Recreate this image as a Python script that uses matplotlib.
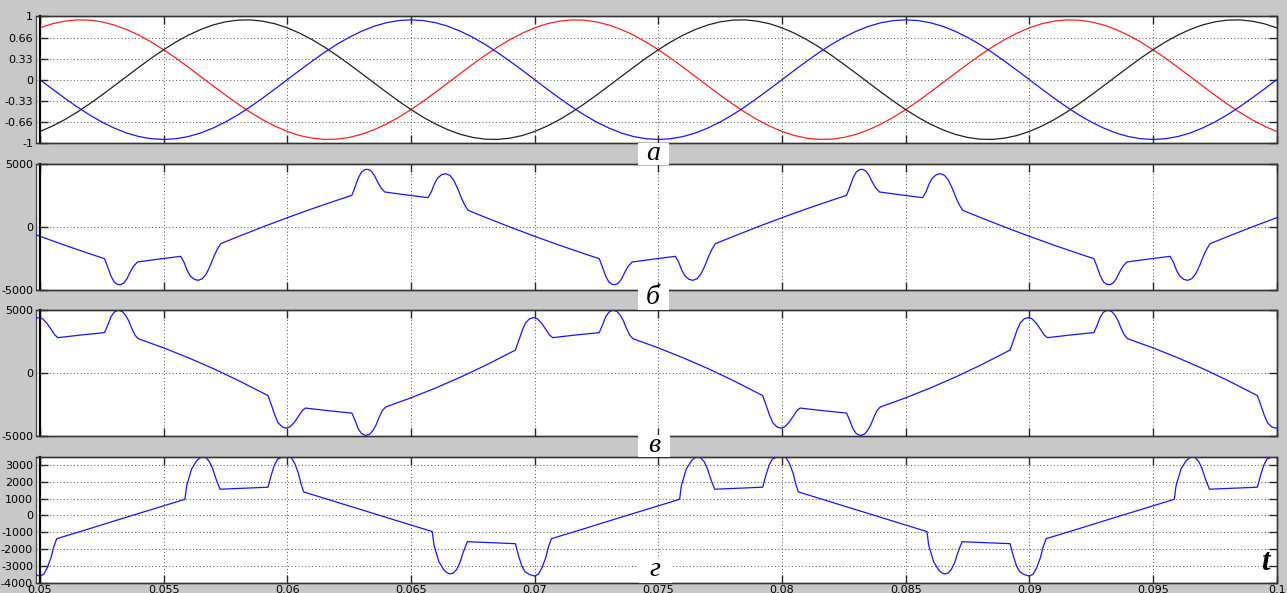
import numpy as np
import matplotlib.pyplot as plt
from matplotlib.patches import Rectangle

# ---- data -------------------------------------------------------------
period = 0.02

# a) three phase reference, one period sampled every 0.5 ms
t_a = [0.0500, 0.0505, 0.0510, 0.0515, 0.0520, 0.0525, 0.0530, 0.0535, 0.0540, 0.0545,
       0.0550, 0.0555, 0.0560, 0.0565, 0.0570, 0.0575, 0.0580, 0.0585, 0.0590, 0.0595,
       0.0600, 0.0605, 0.0610, 0.0615, 0.0620, 0.0625, 0.0630, 0.0635, 0.0640, 0.0645,
       0.0650, 0.0655, 0.0660, 0.0665, 0.0670, 0.0675, 0.0680, 0.0685, 0.0690, 0.0695]
ua_red = [0.814, 0.878, 0.919, 0.939, 0.935, 0.908, 0.859, 0.788, 0.699, 0.592,
          0.47, 0.337, 0.195, 0.049, -0.098, -0.243, -0.382, -0.512, -0.629, -0.73,
          -0.814, -0.878, -0.919, -0.939, -0.935, -0.908, -0.859, -0.788, -0.699, -0.592,
          -0.47, -0.337, -0.195, -0.049, 0.098, 0.243, 0.382, 0.512, 0.629, 0.73]
ua_black = [-0.814, -0.73, -0.629, -0.512, -0.382, -0.243, -0.098, 0.049, 0.195, 0.337,
            0.47, 0.592, 0.699, 0.788, 0.859, 0.908, 0.935, 0.939, 0.919, 0.878,
            0.814, 0.73, 0.629, 0.512, 0.382, 0.243, 0.098, -0.049, -0.195, -0.337,
            -0.47, -0.592, -0.699, -0.788, -0.859, -0.908, -0.935, -0.939, -0.919, -0.878]
ua_blue = [0.0, -0.147, -0.29, -0.427, -0.553, -0.665, -0.76, -0.838, -0.894, -0.928,
           -0.94, -0.928, -0.894, -0.838, -0.76, -0.665, -0.553, -0.427, -0.29, -0.147,
           0.0, 0.147, 0.29, 0.427, 0.553, 0.665, 0.76, 0.838, 0.894, 0.928,
           0.94, 0.928, 0.894, 0.838, 0.76, 0.665, 0.553, 0.427, 0.29, 0.147]

# b) one period
t_b = [0.050, 0.051, 0.052, 0.05261,
       0.05274, 0.05287, 0.05300, 0.05313, 0.05326, 0.05339, 0.05352, 0.05365, 0.05378, 0.05394,
       0.0548, 0.05569,
       0.05582, 0.05595, 0.05608, 0.05624, 0.05640, 0.05657, 0.05673, 0.05689, 0.05705, 0.05718, 0.05731,
       0.058, 0.059, 0.060, 0.061, 0.062, 0.06261,
       0.06274, 0.06287, 0.06300, 0.06313, 0.06326, 0.06339, 0.06352, 0.06365, 0.06378, 0.06394,
       0.0648, 0.06569,
       0.06582, 0.06595, 0.06608, 0.06624, 0.06640, 0.06657, 0.06673, 0.06689, 0.06705, 0.06718, 0.06731,
       0.068, 0.069]
v_b = [-738, -1445, -2117, -2513,
       -3175, -3889, -4365, -4550, -4577, -4444, -4100, -3571, -3122, -2778,
       -2550, -2328,
       -2778, -3439, -3889, -4153, -4233, -4100, -3704, -3042, -2249, -1720, -1323,
       -772, 0, 738, 1445, 2117, 2513,
       3175, 3889, 4365, 4550, 4577, 4444, 4100, 3571, 3122, 2778,
       2550, 2328,
       2778, 3439, 3889, 4153, 4233, 4100, 3704, 3042, 2249, 1720, 1323,
       772, 0]

# c) one period
t_c = [0.05073, 0.0517, 0.05261,
       0.05274, 0.05287, 0.05300, 0.05316, 0.05333, 0.05346, 0.05359, 0.05371, 0.05384, 0.05397,
       0.055, 0.056, 0.057, 0.058, 0.059,
       0.05922, 0.05937, 0.0595, 0.05963, 0.05979, 0.05995, 0.06011, 0.06027, 0.06044, 0.0606,
       0.06073, 0.0617, 0.06261,
       0.06274, 0.06287, 0.06300, 0.06316, 0.06333, 0.06346, 0.06359, 0.06371, 0.06384, 0.06397,
       0.065, 0.066, 0.067, 0.068, 0.069,
       0.06922, 0.06937, 0.0695, 0.06963, 0.06979, 0.06995, 0.07011, 0.07027, 0.07044, 0.0706]
v_c = [2800, 3020, 3200,
       3787, 4454, 4827, 4987, 4880, 4587, 4134, 3547, 3014, 2720,
       1986, 1201, 344, -584, -1583,
       -1810, -2640, -3387, -3974, -4294, -4400, -4294, -3974, -3494, -3014,
       -2800, -3020, -3200,
       -3787, -4454, -4827, -4987, -4880, -4587, -4134, -3547, -3014, -2720,
       -1986, -1201, -344, 584, 1583,
       1810, 2640, 3387, 3974, 4294, 4400, 4294, 3974, 3494, 3014]

# d) one period
t_d = [0.05068, 0.052, 0.053, 0.054, 0.055, 0.05586,
       0.05593, 0.05613, 0.05634, 0.05647, 0.05659, 0.05672, 0.05685, 0.05698, 0.05711, 0.05728,
       0.0583, 0.05922,
       0.05935, 0.05948, 0.05961, 0.0598, 0.05999, 0.06015, 0.0603, 0.06045, 0.06055, 0.06066,
       0.062, 0.063, 0.064, 0.065, 0.06586,
       0.06593, 0.06613, 0.06634, 0.06647, 0.06659, 0.06672, 0.06685, 0.06698, 0.06711, 0.06728,
       0.0683, 0.06922,
       0.06935, 0.06948, 0.06961, 0.0698, 0.06999, 0.07015, 0.0703, 0.07045, 0.07055]
v_d = [-1380, -790, -330, 120, 570, 960,
       1760, 2760, 3260, 3420, 3480, 3420, 3200, 2800, 2200, 1560,
       1620, 1680,
       2400, 3000, 3350, 3480, 3500, 3450, 3100, 2500, 1900, 1400,
       790, 330, -120, -570, -960,
       -1760, -2760, -3260, -3420, -3480, -3420, -3200, -2800, -2200, -1560,
       -1620, -1680,
       -2400, -3000, -3350, -3520, -3600, -3500, -3100, -2500, -1900]

xticks = [0.05, 0.055, 0.06, 0.065, 0.07, 0.075, 0.08, 0.085, 0.09, 0.095, 0.1]
xlabels = ['0.05', '0.055', '0.06', '0.065', '0.07', '0.075', '0.08', '0.085', '0.09', '0.095', '0.1']
yt_a = [-1, -0.66, -0.33, 0, 0.33, 0.66, 1]
yl_a = ['-1', '-0.66', '-0.33', '0', '0.33', '0.66', '1']
yt_bc = [-5000, 0, 5000]
yl_bc = ['-5000', '0', '5000']
yt_d = [-4000, -3000, -2000, -1000, 0, 1000, 2000, 3000]
yl_d = ['-4000', '-3000', '-2000', '-1000', '0', '1000', '2000', '3000']


def repeat(t, v, k0=-1, k1=3):
    # lay the recorded period side by side to fill the time window
    tt = np.concatenate([np.asarray(t) + k * period for k in range(k0, k1)])
    vv = np.tile(v, k1 - k0)
    return tt, vv


# ---- figure -----------------------------------------------------------
W, H = 1287, 593
fig = plt.figure(figsize=(W / 100, H / 100), dpi=100, facecolor='#c8c8c8')


def add_panel(top, bottom, yticks, ylabels, ylim, show_x=False):
    ax = fig.add_axes([35.5 / W, 1 - bottom / H, 1241.2 / W, (bottom - top) / H])
    ax.set_facecolor('white')
    ax.set_xlim(0.04982, 0.1)
    ax.set_ylim(*ylim)
    ax.set_xticks(xticks)
    ax.set_xticklabels(xlabels if show_x else [])
    ax.set_yticks(yticks)
    ax.set_yticklabels(ylabels)
    ax.grid(True, color='0.3', linestyle=(0, (1, 2.5)), linewidth=0.7)
    ax.tick_params(direction='in', length=6, width=1, colors='0.15',
                   top=True, right=True, labelsize=8, labelcolor='black')
    ax.tick_params(axis='y', pad=5)
    ax.tick_params(axis='x', pad=1.5)
    ax.spines['left'].set_position(('data', 0.05))
    ax.spines['left'].set_linewidth(1.6)
    ax.spines['left'].set_color('black')
    for s in ['top', 'right', 'bottom']:
        ax.spines[s].set_linewidth(1.0)
        ax.spines[s].set_color('0.2')
    ax.patch.set_edgecolor('0.3')
    ax.patch.set_linewidth(1.0)
    return ax


ax_a = add_panel(16, 143.3, yt_a, yl_a, (-1, 1))
t, v = repeat(t_a, ua_red, 0, 3)
ax_a.plot(t, v, color='#ff2020', lw=0.9)
t, v = repeat(t_a, ua_black, 0, 3)
ax_a.plot(t, v, color='#202020', lw=0.9)
t, v = repeat(t_a, ua_blue, 0, 3)
ax_a.plot(t, v, color='#1515ff', lw=0.9)

ax_b = add_panel(164, 290, yt_bc, yl_bc, (-5000, 5000))
ax_b.plot(*repeat(t_b, v_b), color='#1515ff', lw=0.9)

ax_c = add_panel(310, 435.7, yt_bc, yl_bc, (-5000, 5000))
ax_c.plot(*repeat(t_c, v_c), color='#1515ff', lw=0.9)

ax_d = add_panel(456.6, 582.7, yt_d, yl_d, (-4000, 3500), show_x=True)
ax_d.plot(*repeat(t_d, v_d), color='#1515ff', lw=0.9)

# panel letters on white plates
letters = [('а', 638, 143, 31, 22, 653, 153),
           ('б', 638, 288, 31, 22, 653, 298),
           ('в', 638, 435, 32, 22, 654, 445),
           ('г', 639, 559, 33, 24, 655, 570)]
for s, x0, y0, w, h, xc, yc in letters:
    fig.add_artist(Rectangle((x0 / W, 1 - (y0 + h) / H), w / W, h / H,
                             transform=fig.transFigure, facecolor='white',
                             edgecolor='none', zorder=5))
    fig.text(xc / W, 1 - yc / H, s, fontsize=20, fontstyle='italic',
             family='Liberation Serif', ha='center', va='center', zorder=6)

fig.text(1265 / W, 1 - 562 / H, 't', fontsize=22, fontstyle='italic',
         fontweight='bold', family='Liberation Serif', ha='center', va='center', zorder=6)

fig.savefig('out.png', dpi=100, facecolor=fig.get_facecolor())
